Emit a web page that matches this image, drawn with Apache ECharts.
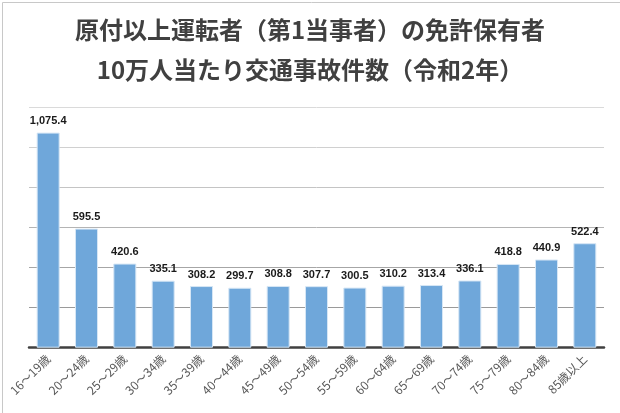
<!DOCTYPE html>
<html>
<head>
<meta charset="utf-8">
<script src="https://cdn.jsdelivr.net/npm/echarts@6/dist/echarts.min.js"></script>
<style>html,body{margin:0;padding:0;background:#fff;}#c{width:620px;height:413px;}</style>
</head>
<body>
<div id="c"></div>
<script>
var titleLines = ['原付以上運転者（第1当事者）の免許保有者', '10万人当たり交通事故件数（令和2年）'];
var categories = ['16～19歳','20～24歳','25～29歳','30～34歳','35～39歳','40～44歳','45～49歳','50～54歳','55～59歳','60～64歳','65～69歳','70～74歳','75～79歳','80～84歳','85歳以上'];
var values = [1075.4, 595.5, 420.6, 335.1, 308.2, 299.7, 308.8, 307.7, 300.5, 310.2, 313.4, 336.1, 418.8, 440.9, 522.4];
var yMin = 0, yMax = 1200, yStep = 200;

var chart = echarts.init(document.getElementById('c'), null, {renderer: 'canvas'});
var fam = '"Noto Sans CJK JP", "Noto Sans", sans-serif';
chart.setOption({
  animation: false,
  backgroundColor: '#ffffff',
  title: {
    text: titleLines.join('\n'),
    left: 'center',
    top: 5,
    textStyle: {fontFamily: fam, fontSize: 24, fontWeight: 'bold', color: '#404040', lineHeight: 40}
  },
  graphic: [{
    type: 'rect', left: 0, top: 0, shape: {x: 0.5, y: 0.5, width: 618, height: 411},
    style: {fill: 'none', stroke: '#c8c8c8', lineWidth: 1}, silent: true
  }],
  grid: {left: 29, right: 16, top: 107.7, bottom: 65.3, containLabel: false},
  xAxis: {
    type: 'category',
    data: categories,
    axisLine: {show: true, lineStyle: {color: '#404040', width: 2.5}},
    axisTick: {show: false},
    axisLabel: {rotate: 45, interval: 0, color: '#595959', fontFamily: fam, fontSize: 12, margin: 9}
  },
  yAxis: {
    type: 'value', min: yMin, max: yMax, interval: yStep,
    axisLabel: {show: false}, axisLine: {show: false}, axisTick: {show: false},
    splitLine: {show: true, lineStyle: {color: ['#999999','#9a9a9a','#a6a6a6','#b4b4b4','#c4c4c4','#d0d0d0','#dadada'], width: 1}}
  },
  series: [{
    type: 'bar',
    data: values,
    barWidth: '60%',
    itemStyle: {color: '#6fa7da', borderColor: '#d6e6f5', borderWidth: 1},
    label: {
      show: true, position: 'top', distance: 6,
      fontFamily: '"Liberation Sans", "Noto Sans", sans-serif', fontSize: 11, fontWeight: 'bold', color: '#1a1a1a',
      formatter: function (p) {
        return p.value.toLocaleString('en-US', {minimumFractionDigits: 1, maximumFractionDigits: 1});
      }
    }
  }]
});
</script>
</body>
</html>
